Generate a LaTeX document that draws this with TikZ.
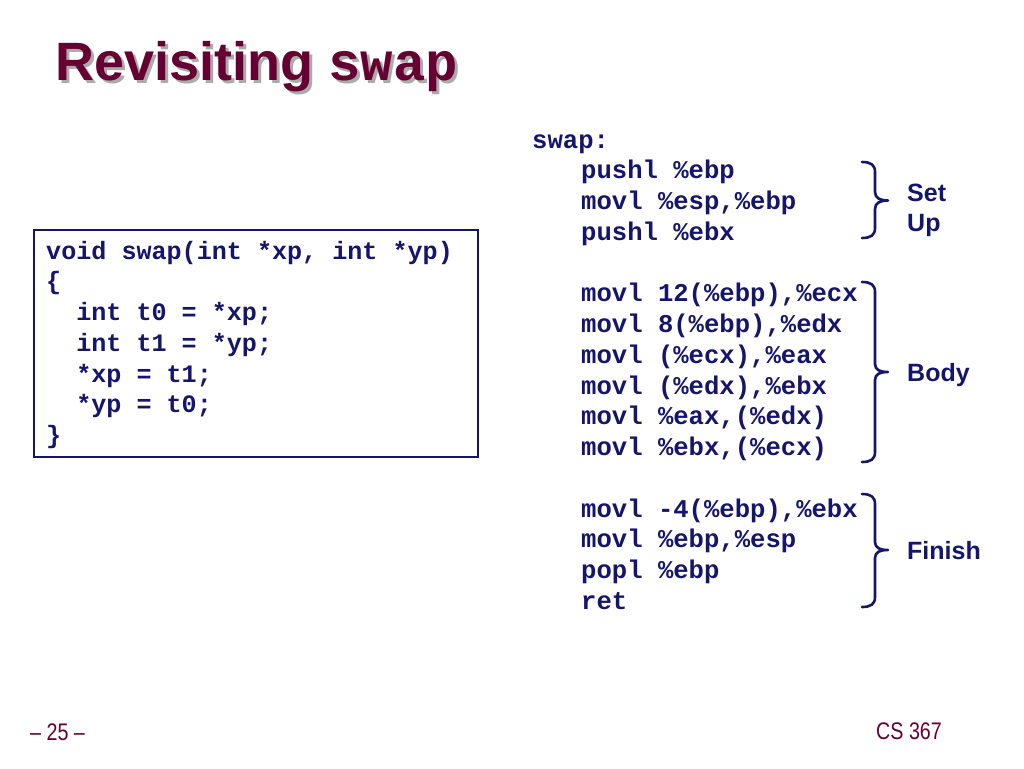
\documentclass[tikz,border=0pt]{standalone}
\usepackage{fontspec}
\setmainfont{Liberation Sans}
\setsansfont{Liberation Sans}
\setmonofont{Liberation Mono}
\newfontfamily\narrowfont[FakeStretch=0.82]{Liberation Sans}
\definecolor{navy}{HTML}{15156B}
\definecolor{maroon}{HTML}{660033}
\definecolor{shadowgray}{HTML}{ABABAB}
\begin{document}
\begin{tikzpicture}[x=1pt,y=-1pt,
  code/.style={anchor=base west,inner sep=0pt,text=navy,font=\fontsize{25.6}{30.75}\selectfont\ttfamily\bfseries},
  ccode/.style={code,font=\fontsize{25.1}{30.75}\selectfont\ttfamily\bfseries},
  lbl/.style={anchor=base west,inner sep=0pt,text=navy,font=\fontsize{25}{30}\selectfont\sffamily\bfseries},
  foot/.style={anchor=base west,inner sep=0pt,text=maroon,font=\fontsize{24}{28}\selectfont\narrowfont},
  bracepath/.style={draw=navy,line width=2.6pt,line cap=round,line join=round},
  titletext/.style={anchor=base west,inner sep=0pt,font=\fontsize{54}{60}\selectfont}]
\useasboundingbox[fill=white] (0,0) rectangle (1024,768);
% title
\node[titletext,text=shadowgray] (tshadow) at (58,83) {\sffamily\bfseries Revisiting \ttfamily\bfseries swap};
\node[titletext,text=maroon] (title) at (55,80) {\sffamily\bfseries Revisiting \ttfamily\bfseries swap};
% C code box
\draw[navy,line width=1.3pt] (34,230) rectangle (478,457);
\node[ccode] (c1) at (46,259) {void swap(int *xp, int *yp)};
\node[ccode] (c2) at (46,289.75) {\{};
\node[ccode] (c3) at (46,320.5) {\ \ int t0 = *xp;};
\node[ccode] (c4) at (46,351.25) {\ \ int t1 = *yp;};
\node[ccode] (c5) at (46,382) {\ \ *xp = t1;};
\node[ccode] (c6) at (46,412.75) {\ \ *yp = t0;};
\node[ccode] (c7) at (46,443.5) {\}};
% assembly
\node[code] (a0) at (532,148) {swap:};
\node[code] (a1) at (581,178.75) {pushl \%ebp};
\node[code] (a2) at (581,209.5) {movl \%esp,\%ebp};
\node[code] (a3) at (581,240.25) {pushl \%ebx};
\node[code] (a5) at (581,301.75) {movl 12(\%ebp),\%ecx};
\node[code] (a6) at (581,332.5) {movl 8(\%ebp),\%edx};
\node[code] (a7) at (581,363.25) {movl (\%ecx),\%eax};
\node[code] (a8) at (581,394) {movl (\%edx),\%ebx};
\node[code] (a9) at (581,424.75) {movl \%eax,(\%edx)};
\node[code] (a10) at (581,455.5) {movl \%ebx,(\%ecx)};
\node[code] (a12) at (581,517) {movl -4(\%ebp),\%ebx};
\node[code] (a13) at (581,547.75) {movl \%ebp,\%esp};
\node[code] (a14) at (581,578.5) {popl \%ebp};
\node[code] (a15) at (581,609.25) {ret};
% braces
\draw[bracepath] (862,162) .. controls (871,162) and (875,165) .. (875,172)
  -- (875,192) .. controls (875,198) and (880,200.5) .. (888,200.5)
  .. controls (880,200.5) and (875,203) .. (875,209)
  -- (875,228) .. controls (875,235) and (871,238) .. (862,238);
\draw[bracepath] (862,282) .. controls (871,282) and (875,285) .. (875,292)
  -- (875,364) .. controls (875,370) and (880,372) .. (888,372)
  .. controls (880,372) and (875,374) .. (875,380)
  -- (875,452) .. controls (875,459) and (871,462) .. (862,462);
\draw[bracepath] (862,494) .. controls (871,494) and (875,497) .. (875,504)
  -- (875,542) .. controls (875,548) and (880,550) .. (888,550)
  .. controls (880,550) and (875,552) .. (875,558)
  -- (875,597) .. controls (875,604) and (871,607) .. (862,607);
% labels
\node[lbl] (lset) at (907,201) {Set};
\node[lbl] (lup) at (907,231) {Up};
\node[lbl] (lbody) at (907,381) {Body};
\node[lbl] (lfinish) at (907,559) {Finish};
% footer
\node[foot] (pg) at (30,740) {– 25 –};
\node[foot] (course) at (876,739) {CS 367};
\end{tikzpicture}
\end{document}
